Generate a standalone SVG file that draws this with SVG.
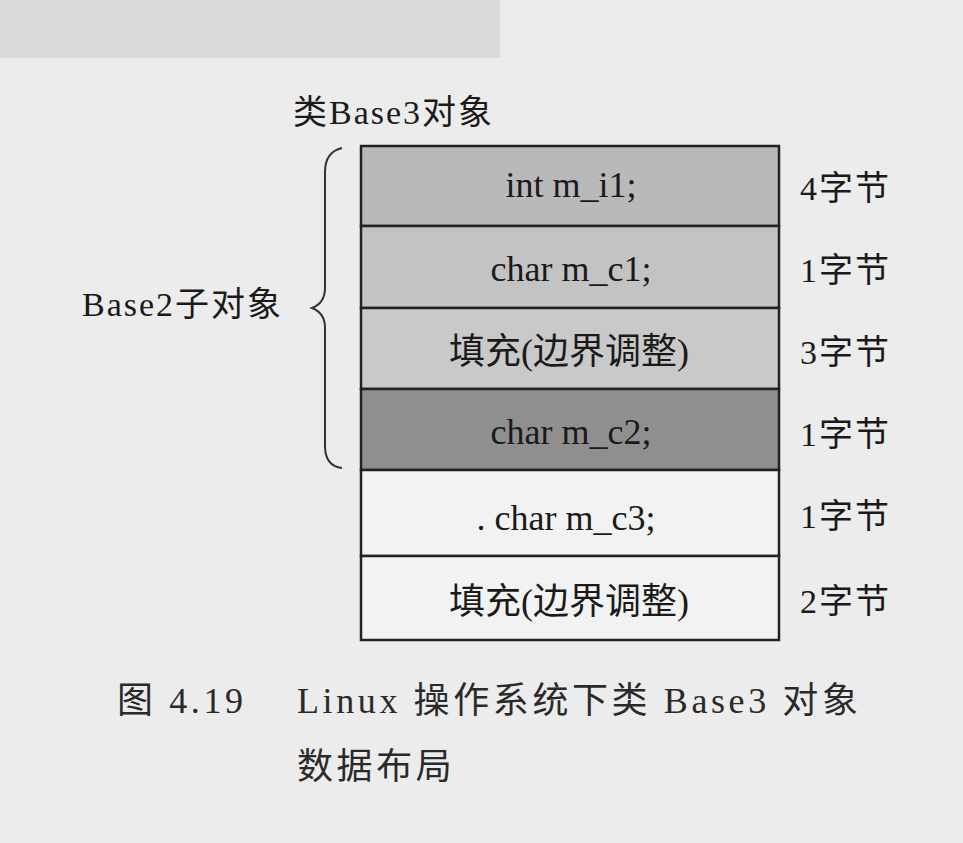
<svg xmlns="http://www.w3.org/2000/svg" width="963" height="843" viewBox="0 0 963 843">
<style>
.cell{stroke:#222;stroke-width:2.5}
.t{font-family:"Liberation Serif","Noto Sans CJK SC",serif;font-size:36px;fill:#1a1a1a}
.l{font-family:"Liberation Serif","Noto Sans CJK SC",serif;font-size:34px;fill:#1a1a1a;letter-spacing:2px}
.c{text-anchor:middle}
.cap{font-family:"Liberation Serif","Noto Sans CJK SC",serif;font-size:36px;fill:#2a2a2a;letter-spacing:3.6px}
</style>
<rect width="963" height="843" fill="#ececec"/>
<rect x="0" y="0" width="500" height="58" fill="#d6d6d6" opacity="0.8"/>
<text class="l" x="293" y="124" letter-spacing="3.5">类Base3对象</text>
<g id="row1"><rect class="cell" x="361" y="146" width="418" height="80" fill="#b9b9b9"/><text class="t c" x="571" y="197">int m_i1;</text><text class="l" x="800" y="200">4字节</text></g>
<g id="row2"><rect class="cell" x="361" y="226" width="418" height="82" fill="#c3c3c3"/><text class="t c" x="571" y="281">char m_c1;</text><text class="l" x="800" y="282">1字节</text></g>
<g id="row3"><rect class="cell" x="361" y="308" width="418" height="81" fill="#c9c9c9"/><text class="t c" x="569" y="364">填充(边界调整)</text><text class="l" x="800" y="364">3字节</text></g>
<g id="row4"><rect class="cell" x="361" y="389" width="418" height="81" fill="#8f8f8f"/><text class="t c" x="571" y="444">char m_c2;</text><text class="l" x="800" y="446">1字节</text></g>
<g id="row5"><rect class="cell" x="361" y="470" width="418" height="86" fill="#f2f2f2"/><text class="t c" x="566" y="530">. char m_c3;</text><text class="l" x="800" y="528">1字节</text></g>
<g id="row6"><rect class="cell" x="361" y="556" width="418" height="84" fill="#f2f2f2"/><text class="t c" x="569" y="614">填充(边界调整)</text><text class="l" x="800" y="613">2字节</text></g>
<g id="brace"><path d="M342 148 Q325 152 325 172 L325 288 Q325 303 312 308 Q325 313 325 328 L325 446 Q325 466 342 468" fill="none" stroke="#333" stroke-width="2"/></g>
<text class="l" x="82" y="316" letter-spacing="4.5">Base2子对象</text>
<text class="cap" x="117" y="713">图 4.19</text>
<text class="cap" x="297" y="713">Linux 操作系统下类 Base3 对象</text>
<text class="cap" x="297" y="779">数据布局</text>
</svg>
